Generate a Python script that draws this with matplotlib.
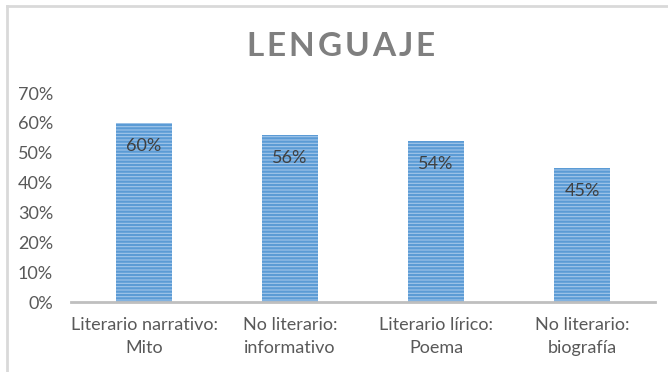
import matplotlib
matplotlib.use("Agg")
import matplotlib.pyplot as plt
from matplotlib.lines import Line2D

plt.rcParams['font.family'] = ['Lato', 'DejaVu Sans']
plt.rcParams['hatch.linewidth'] = 1.6

categories = ["Literario narrativo:\nMito", "No literario:\ninformativo",
              "Literario lírico:\nPoema", "No literario:\nbiografía"]
values = [0.60, 0.56, 0.54, 0.45]
yticks = [0, 0.1, 0.2, 0.3, 0.4, 0.5, 0.6, 0.7]
title = "LENGUAJE"

fig = plt.figure(figsize=(6.68, 3.72), dpi=100)
ax = fig.add_axes([0.1063, 0.188, 0.8742, 0.562])

x = list(range(len(categories)))
bars = ax.bar(x, values, width=0.38, color="#a2c6ea", edgecolor="#5b9bd5",
              hatch="-----", linewidth=0, zorder=2)

for xi, v in zip(x, values):
    ax.annotate(f"{round(v * 100)}%", (xi, v), xytext=(0, -17),
                textcoords="offset points", ha="center", va="center",
                fontsize=13, color="#404040", zorder=3)

ax.set_xlim(-0.5, len(categories) - 0.5)
ax.set_ylim(0, 0.7)
ax.set_yticks(yticks)
ax.set_yticklabels([f"{round(t * 100)}%" for t in yticks])
ax.set_xticks(x)
ax.set_xticklabels(categories, linespacing=1.5)
ax.tick_params(axis="both", length=0, colors="#595959", labelsize=13)
ax.tick_params(axis="y", pad=13)
ax.tick_params(axis="x", pad=11)

for s in ["top", "right", "left"]:
    ax.spines[s].set_visible(False)
ax.spines["bottom"].set_color("#bfbfbf")
ax.spines["bottom"].set_linewidth(2)

# spaced-out title, one letter at a time
fig.canvas.draw()
renderer = fig.canvas.get_renderer()
spacing = 0.0045
letters = []
for ch in title:
    t = fig.text(0, 0.875, ch, ha="left", va="center", fontsize=24,
                 fontweight="bold", color="#7f7f7f")
    w = t.get_window_extent(renderer).width / fig.bbox.width
    letters.append((t, w))
total = sum(w for _, w in letters) + spacing * (len(letters) - 1)
pos = 0.5100 - total / 2
for t, w in letters:
    t.set_x(pos)
    pos += w + spacing

# chart frame (top and left edges)
fig.add_artist(Line2D([0.0105, 1.0], [0.984, 0.984], color="#d9d9d9", lw=2,
                      transform=fig.transFigure))
fig.add_artist(Line2D([0.0105, 0.0105], [0.0, 0.984], color="#d9d9d9", lw=2,
                      transform=fig.transFigure))

fig.savefig("out.png", dpi=100)
